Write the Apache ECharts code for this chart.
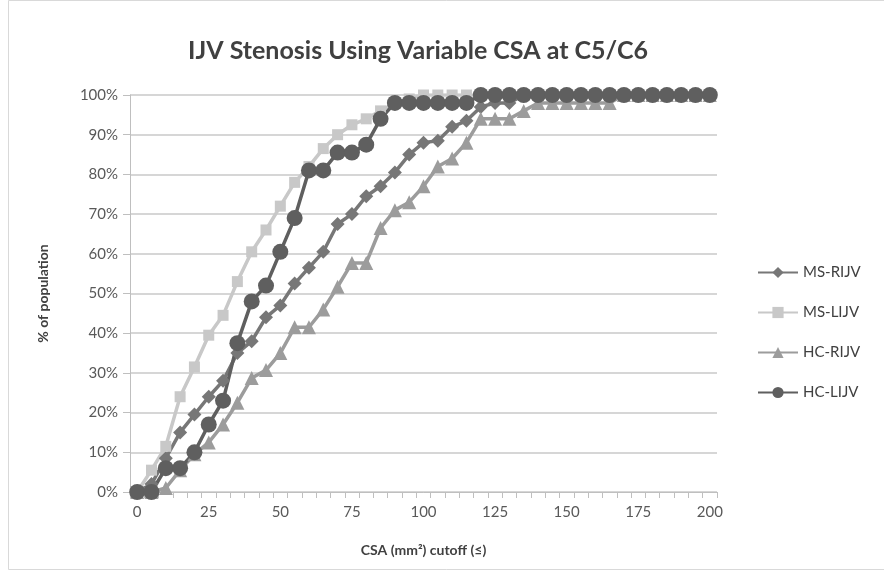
<!DOCTYPE html>
<html>
<head>
<meta charset="utf-8">
<script src="https://cdn.jsdelivr.net/npm/echarts@6/dist/echarts.min.js"></script>
<style>
  html, body { margin: 0; padding: 0; background: #fff; }
  #chart { width: 884px; height: 579px; }
</style>
</head>
<body>
<div id="chart"></div>
<script>
// CSA cutoff values (mm²)
const cutoffs = ['0', '5', '10', '15', '20', '25', '30', '35', '40', '45', '50', '55', '60', '65', '70',
    '75', '80', '85', '90', '95', '100', '105', '110', '115', '120', '125', '130', '135', '140', '145',
    '150', '155', '160', '165', '170', '175', '180', '185', '190', '195', '200'];

// % of population
const msRijv = [0, 2, 8.5, 15, 19.5, 24, 28, 35, 38, 44, 47, 52.5, 56.5, 60.5, 67.5, 70, 74.5, 77, 80.5,
    85, 88, 88.5, 92, 93.5, 97, 98, 98, 100, 100, 100, 100, 100, 100, 100, 100, 100, 100, 100, 100, 100, 100];
const msLijv = [0, 5.5, 11.5, 24, 31.5, 39.5, 44.5, 53, 60.5, 66, 72, 78, 82, 86.5, 90, 92.5, 94, 96, 98,
    99, 100, 100, 100, 100, 100, 100, 100, 100, 100, 100, 100, 100, 100, 100, 100, 100, 100, 100, 100, 100, 100];
const hcRijv = [0, 0, 1, 5.5, 9.5, 12.5, 17, 22.5, 28.7, 30.7, 35, 41.5, 41.5, 46, 51.7, 57.7, 57.7, 66.5,
    71, 73, 77, 82, 84, 88, 94, 94, 94, 96, 98, 98, 98, 98, 98, 98, 100, 100, 100, 100, 100, 100, 100];
const hcLijv = [0, 0, 6, 6, 10, 17, 23, 37.5, 48, 52, 60.5, 69, 81, 81, 85.5, 85.5, 87.5, 94, 98, 98, 98,
    98, 98, 98, 100, 100, 100, 100, 100, 100, 100, 100, 100, 100, 100, 100, 100, 100, 100, 100, 100];

const font = 'Lato, "Open Sans", sans-serif';

function lineSeries(name, data, symbol, size, color) {
    return {
        name: name,
        type: 'line',
        data: data,
        symbol: symbol,
        symbolSize: size,
        showAllSymbol: true,
        lineStyle: { width: 3.5, color: color },
        itemStyle: { color: color },
        emphasis: { disabled: true }
    };
}

const chart = echarts.init(document.getElementById('chart'), null, { renderer: 'canvas' });

const option = {
    animation: false,
    backgroundColor: '#fff',
    textStyle: { fontFamily: font },
    title: {
        text: 'IJV Stenosis Using Variable CSA at C5/C6',
        left: 413,
        top: 33,
        textAlign: 'center',
        textStyle: { fontSize: 25, fontWeight: 'bold', color: '#404040', fontFamily: font }
    },
    graphic: [{
        type: 'rect',
        shape: { x: 8.5, y: 0.5, width: 880, height: 569 },
        style: { fill: 'none', stroke: '#d9d9d9', lineWidth: 1 },
        silent: true
    }],
    legend: {
        orient: 'vertical',
        left: 752,
        top: 260,
        itemWidth: 40,
        itemHeight: 14,
        itemGap: 25,
        textStyle: { fontSize: 15, color: '#404040', fontFamily: font },
        data: ['MS-RIJV', 'MS-LIJV', 'HC-RIJV', 'HC-LIJV']
    },
    grid: {
        left: 130,
        right: 167,
        top: 95,
        bottom: 87,
        containLabel: false
    },
    xAxis: {
        type: 'category',
        data: cutoffs,
        boundaryGap: true,
        name: 'CSA (mm²) cutoff (≤)',
        nameLocation: 'middle',
        nameGap: 51,
        nameTextStyle: { fontSize: 14, fontWeight: 'bold', color: '#404040', fontFamily: font },
        axisLine: { lineStyle: { color: '#bfbfbf', width: 1 } },
        axisTick: { show: true, interval: 0, length: 6, lineStyle: { color: '#bfbfbf' } },
        axisLabel: { interval: 4, margin: 13, fontSize: 15, color: '#595959', fontFamily: font },
        splitLine: { show: false }
    },
    yAxis: {
        type: 'value',
        min: 0,
        max: 100,
        interval: 10,
        name: '% of population',
        nameLocation: 'middle',
        nameGap: 80,
        nameRotate: 90,
        nameTextStyle: { fontSize: 14, fontWeight: 'bold', color: '#404040', fontFamily: font },
        axisLine: { show: true, lineStyle: { color: '#bfbfbf', width: 1 } },
        axisTick: { show: true, length: 7, lineStyle: { color: '#bfbfbf' } },
        axisLabel: { formatter: '{value}%', margin: 12, fontSize: 15, color: '#595959', fontFamily: font },
        splitLine: { lineStyle: { color: '#c8c8c8', width: 1.5 } }
    },
    series: [
        lineSeries('MS-RIJV', msRijv, 'diamond', 14, '#777777'),
        lineSeries('MS-LIJV', msLijv, 'rect', 11, '#c8c8c8'),
        lineSeries('HC-RIJV', hcRijv, 'triangle', 14, '#9c9c9c'),
        lineSeries('HC-LIJV', hcLijv, 'circle', 16, '#5f5f5f')
    ]
};

chart.setOption(option);
</script>
</body>
</html>
